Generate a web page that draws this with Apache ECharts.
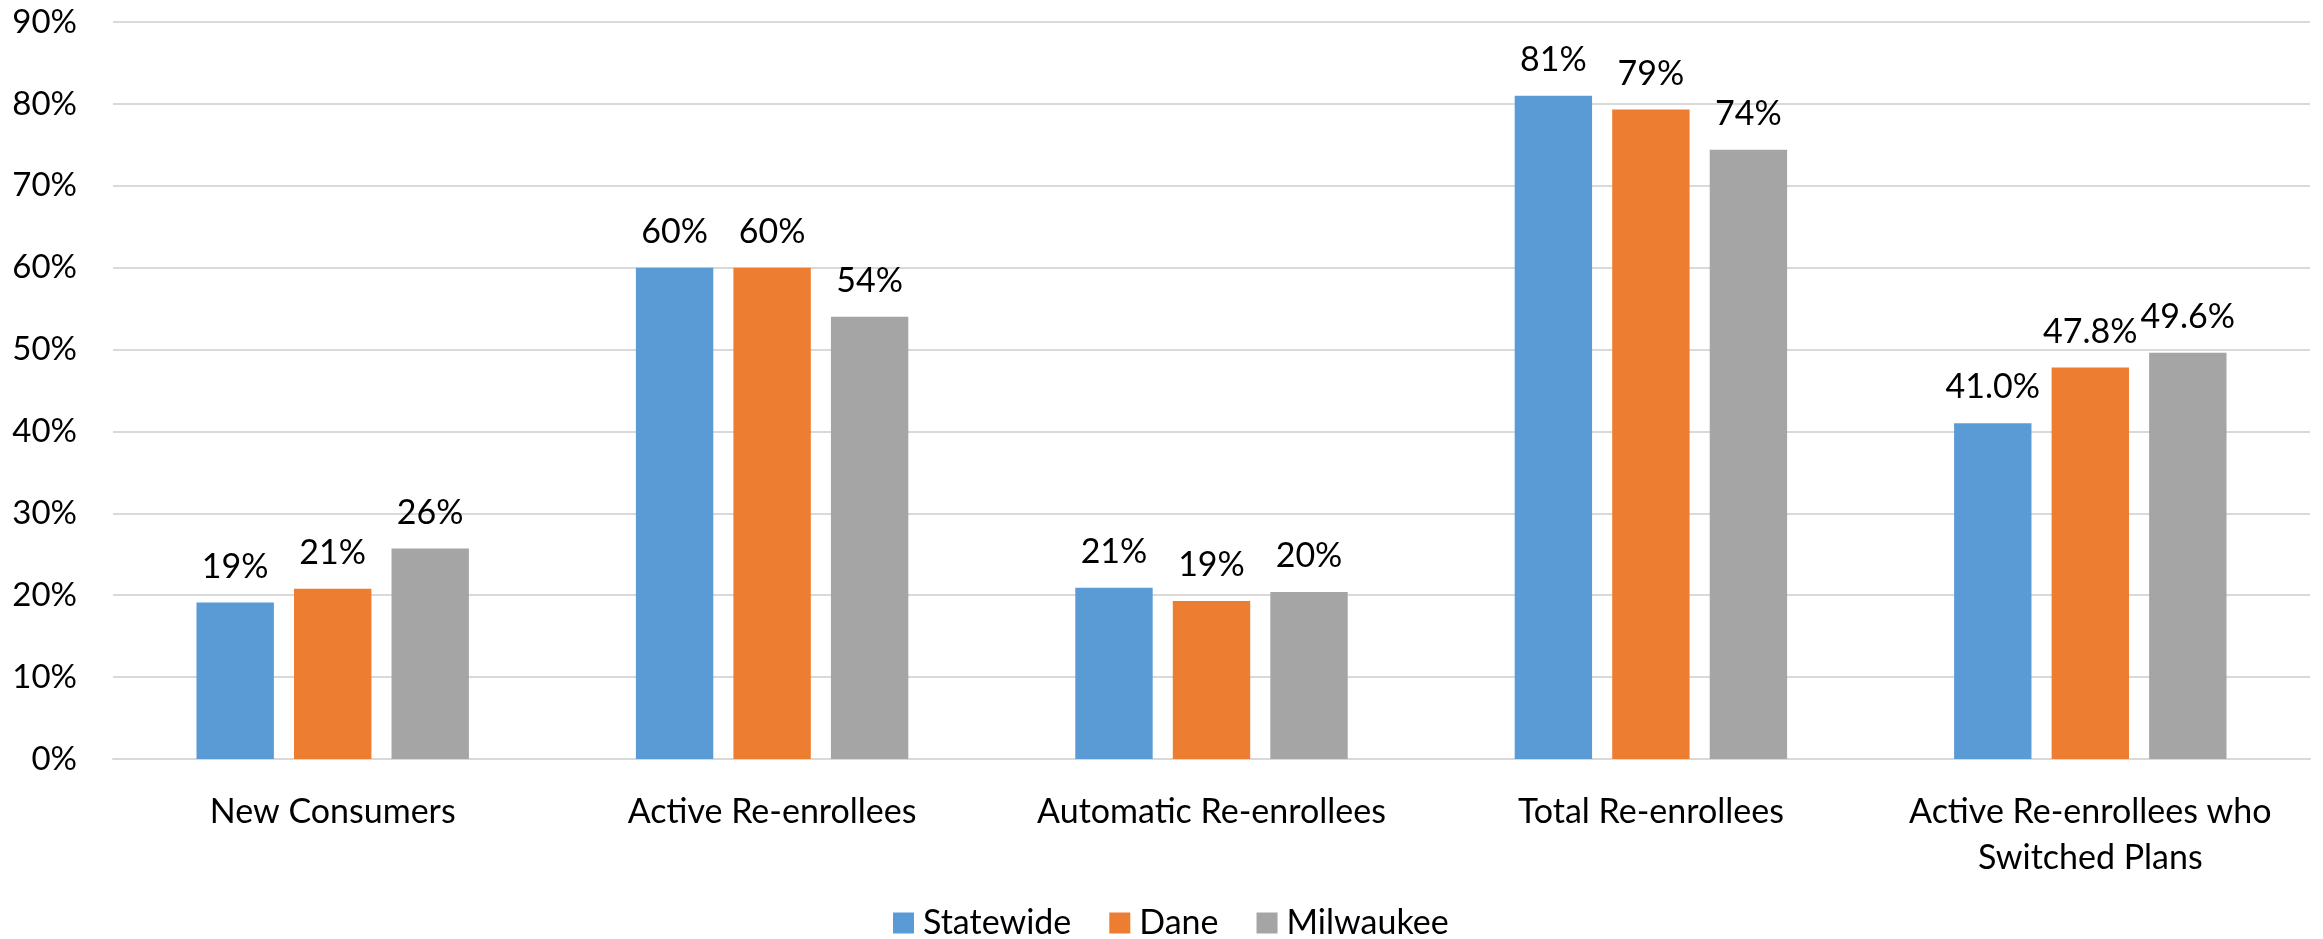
<!DOCTYPE html>
<html>
<head>
<meta charset="utf-8">
<script src="https://cdn.jsdelivr.net/npm/echarts@6/dist/echarts.min.js"></script>
<style>
  html, body { margin: 0; padding: 0; background: #fff; }
  #main { width: 2323px; height: 939px; }
</style>
</head>
<body>
<div id="main"></div>
<script>
// categories along the x axis
var categories = ['New Consumers', 'Active Re-enrollees', 'Automatic Re-enrollees',
                  'Total Re-enrollees', 'Active Re-enrollees who\nSwitched Plans'];
// decimals shown on each group's labels
var labelDecimals = [0, 0, 0, 0, 1];
// series values (percent)
var statewide = [19.1, 60.0, 20.9, 81.0, 41.0];
var dane      = [20.8, 60.0, 19.3, 79.3, 47.8];
var milwaukee = [25.7, 54.0, 20.4, 74.4, 49.6];
var seriesNames = ['Statewide', 'Dane', 'Milwaukee'];
var colors = ['#5B9BD5', '#ED7D31', '#A5A5A5'];

var font = 'Lato, "Open Sans", sans-serif';

var myChart = echarts.init(document.getElementById('main'));

function makeSeries(name, data, color) {
    return {
        name: name,
        type: 'bar',
        barGap: '26%',
        barCategoryGap: '38%',
        itemStyle: { color: color },
        label: {
            show: true,
            position: 'top',
            distance: 19,
            color: '#000',
            fontFamily: font,
            fontSize: 34,
            formatter: function (p) {
                return p.value.toFixed(labelDecimals[p.dataIndex]) + '%';
            }
        },
        data: data
    };
}

var option = {
    backgroundColor: '#fff',
    animation: false,
    grid: { left: 113, right: 13, top: 22, bottom: 180 },
    legend: {
        left: 893,
        top: 906,
        padding: 0,
        itemWidth: 21,
        itemHeight: 21,
        itemGap: 38,
        icon: 'rect',
        textStyle: { fontFamily: font, fontSize: 34, color: '#000', padding: [0, 0, 0, 4] },
        data: seriesNames
    },
    xAxis: {
        type: 'category',
        data: categories,
        axisTick: { show: false },
        axisLine: { lineStyle: { color: '#d9d9d9', width: 2 } },
        axisLabel: {
            interval: 0,
            margin: 30,
            color: '#000',
            fontFamily: font,
            fontSize: 34,
            lineHeight: 46
        }
    },
    yAxis: {
        type: 'value',
        min: 0,
        max: 90,
        interval: 10,
        axisLine: { show: false },
        axisTick: { show: false },
        axisLabel: {
            margin: 36,
            color: '#000',
            fontFamily: font,
            fontSize: 33,
            formatter: '{value}%'
        },
        splitLine: { lineStyle: { color: '#d9d9d9', width: 2 } }
    },
    series: [
        makeSeries(seriesNames[0], statewide, colors[0]),
        makeSeries(seriesNames[1], dane, colors[1]),
        makeSeries(seriesNames[2], milwaukee, colors[2])
    ]
};
myChart.setOption(option);
</script>
</body>
</html>
